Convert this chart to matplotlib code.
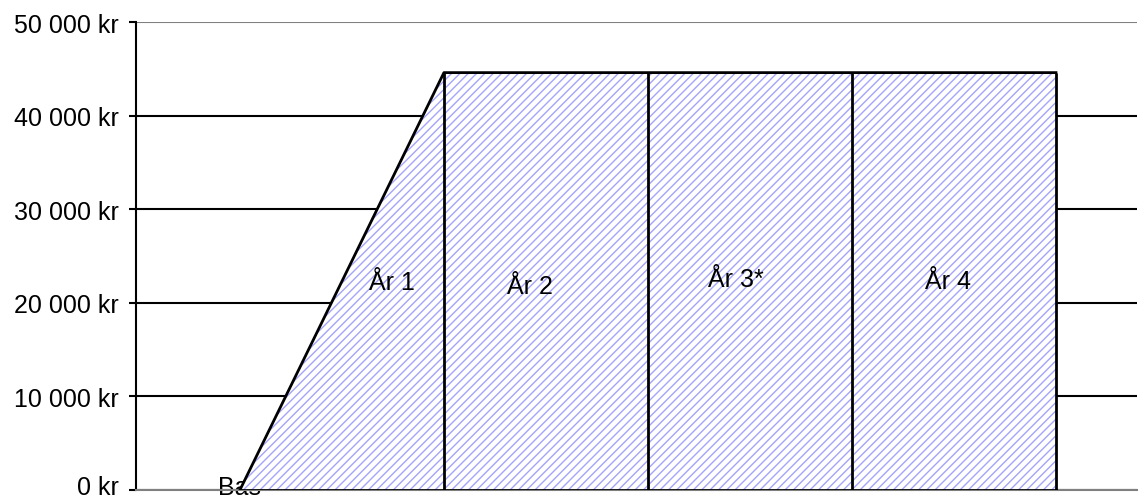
import matplotlib.pyplot as plt

categories = ["Bas", "År 1", "År 2", "År 3*", "År 4"]
values = [0, 44600, 44600, 44600, 44600]
yticks = [0, 10000, 20000, 30000, 40000, 50000]
ytick_labels = ["0 kr", "10 000 kr", "20 000 kr", "30 000 kr", "40 000 kr", "50 000 kr"]

# where the year labels sit inside the area (category position, value)
label_pos = {
    "År 1": (0.745, 22200),
    "År 2": (1.42, 21800),
    "År 3*": (2.43, 22500),
    "År 4": (3.47, 22300),
}

plt.rcParams["font.family"] = ["Liberation Sans", "DejaVu Sans"]

fig = plt.figure(figsize=(11.42, 5.02), dpi=100)
ax = fig.add_axes([0.1188, 0.0219, 0.8768, 0.9321])

x = list(range(len(categories)))

ax.fill_between(x, 0, values, facecolor="white", edgecolor="#A4A4FA",
                hatch="////", linewidth=0, zorder=3)
ax.plot(x, values, color="black", linewidth=2, zorder=4)
ax.plot([x[0], x[-1]], [0, 0], color="black", linewidth=2, zorder=4)
ax.vlines(x[1:], 0, values[1:], color="black", linewidth=2, zorder=4)

for name, (lx, ly) in label_pos.items():
    ax.text(lx, ly, name, fontsize=18, ha="center", va="center", zorder=5)

ax.set_xlim(-0.511, 4.397)
ax.set_ylim(0, 50000)
ax.set_yticks(yticks)
# the bottom label sits at the very edge of the figure; draw it a touch higher
ax.set_yticklabels([""] + ytick_labels[1:], fontsize=18)
ax.annotate(ytick_labels[0], xy=(0, 0), xycoords="axes fraction",
            xytext=(-12, 2), textcoords="offset points",
            ha="right", va="center", fontsize=18)
ax.set_xticks([0])
ax.set_xticklabels([categories[0]], fontsize=18)
ax.tick_params(axis="x", length=0, pad=-11)
ax.tick_params(axis="y", length=5, width=1.5, direction="out", pad=7)

ax.grid(axis="y", color="black", linewidth=1.5, zorder=1)
ax.set_axisbelow(True)
ax.yaxis.get_gridlines()[-1].set_color("#808080")

for side in ["top", "right"]:
    ax.spines[side].set_visible(False)
ax.spines["bottom"].set_color("#808080")
ax.spines["bottom"].set_linewidth(1.5)
ax.spines["left"].set_linewidth(1.5)

fig.savefig("out.png", dpi=100)
